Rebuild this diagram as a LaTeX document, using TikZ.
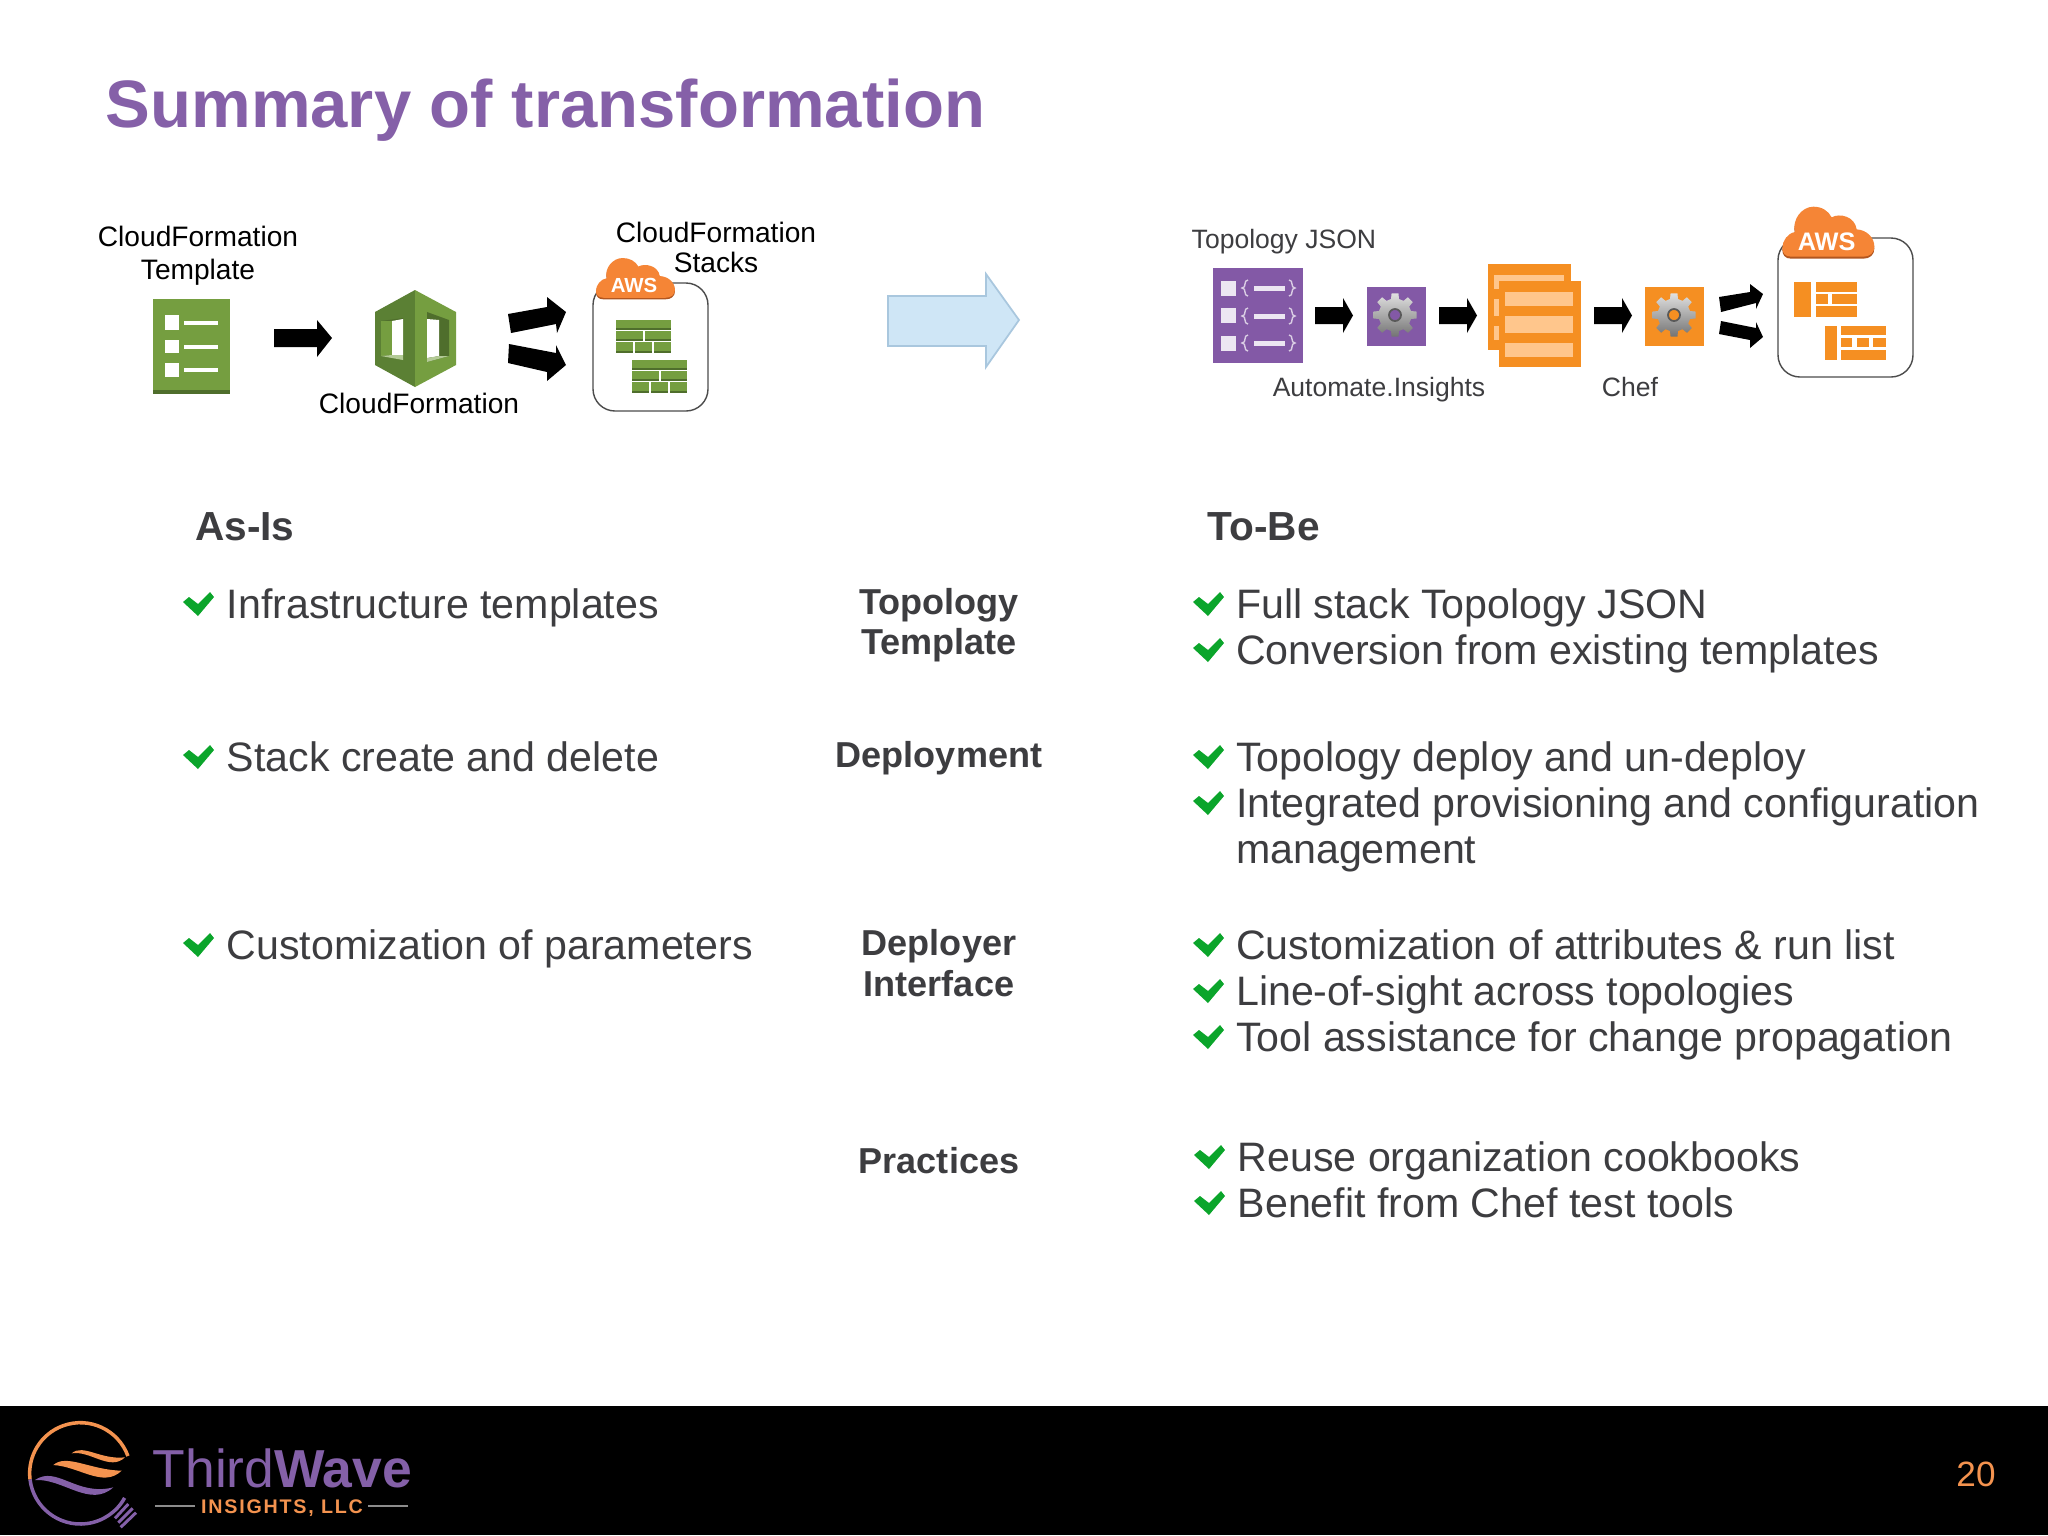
\documentclass[tikz,border=0pt]{standalone}
\usepackage{xcolor}
\usepackage{fontspec}
\setmainfont{Liberation Sans}

\definecolor{titlepurple}{HTML}{8560A8}
\definecolor{bodygray}{HTML}{3D3D40}
\definecolor{checkgreen}{HTML}{0BA52B}
\definecolor{leafgreen}{HTML}{759E40}
\definecolor{leafdark}{HTML}{4F6E2C}
\definecolor{leafmid}{HTML}{5B8034}
\definecolor{iconpurple}{HTML}{8359A6}
\definecolor{iconorange}{HTML}{F58F22}
\definecolor{cloudorange}{HTML}{F58536}
\definecolor{clouddark}{HTML}{B2561F}
\definecolor{logoorange}{HTML}{F4934F}
\definecolor{logopurple}{HTML}{8460A8}
\definecolor{paleblue}{HTML}{CFE6F6}
\definecolor{paleedge}{HTML}{A9C7DE}

\tikzset{
    bodytext/.style={anchor=base west,inner sep=0pt,text=bodygray,font=\fontsize{11.7}{14}\selectfont},
    headtext/.style={anchor=base west,inner sep=0pt,text=bodygray,font=\fontsize{11.55}{14}\bfseries\selectfont},
    rowlabel/.style={align=center,inner sep=0pt,text=bodygray,font=\fontsize{10.25}{11.5}\bfseries\selectfont},
    iconlabel/.style={align=center,inner sep=0pt,text=black,font=\fontsize{8}{9.4}\selectfont},
    toolabel/.style={inner sep=0pt,text=bodygray,font=\fontsize{7.55}{9}\selectfont},
    roundbox/.style={draw=black!70,line width=0.4pt,fill=white,rounded corners=0.22cm}
}

\newcommand{\chk}[2]{\fill[checkgreen,shift={(#1,#2)}] (0,-2) -- (6,-7) -- (15,0) -- (27,-12) -- (31,-7) -- (15,12) -- cycle;}
\newcommand{\sidearrow}[1]{\fill[black] (#1,307) -- ++(28,0) -- ++(0,-9) -- ++(10,17.5) -- ++(-10,17.5) -- ++(0,-9) -- ++(-28,0) -- cycle;}
% name, x0, y0, xscale, yscale, font size
\newcommand{\awscloud}[6]{
    \begin{scope}[shift={(#2,#3)},xscale=#4,yscale=#5]
        \foreach \c/\d in {clouddark/6,cloudorange/0}
            \fill[\c,shift={(0,\d)}] (48,170) .. controls (30,170) and (22,158) .. (22,144)
                .. controls (22,122) and (38,100) .. (60,96)
                .. controls (50,60) and (80,20) .. (115,20)
                .. controls (140,20) and (160,32) .. (170,52)
                .. controls (195,38) and (240,50) .. (245,88)
                .. controls (275,90) and (298,112) .. (298,140)
                .. controls (298,158) and (285,170) .. (265,170) -- cycle;
        \node[inner sep=0pt,text=white,font=\fontsize{#6}{#6}\bfseries\selectfont] (#1) at (155,124) {AWS};
    \end{scope}
}
\newcommand{\wallicon}[2]{
    \begin{scope}[shift={(#1,#2)}]
        \foreach \xa/\xb/\ya/\yb in {0/55/0/10,0/27/11/21,29/55/11/21,0/17/22/33,19/36/22/33,38/55/22/33}{
            \fill[leafgreen] (\xa,\ya) rectangle (\xb,\yb);
            \fill[leafdark] (\xa,\yb-1.6) rectangle (\xb,\yb);
        }
    \end{scope}
}
\newcommand{\gearicon}[2]{
    \shade[top color=black!12,bottom color=black!55,even odd rule,shift={(#1,#2)}]
        (-14:16.5) \foreach \a in {0,45,...,315}{ -- (\a-14:16.5) -- (\a-9:22) -- (\a+9:22) -- (\a+14:16.5) } -- cycle
        (0,0) circle (6);
    \draw[black!65,line width=0.5pt,shift={(#1,#2)}] (0,0) circle (6);
}

\begin{document}
\begin{tikzpicture}[x=0.01cm,y=-0.01cm]
        \useasboundingbox (0,0) rectangle (2048,1535);
        \fill[white] (0,0) rectangle (2048,1535);

        \node[anchor=base west,inner sep=0pt,text=titlepurple,font=\fontsize{19.07}{22}\bfseries\selectfont] (title) at (105,127) {Summary of transformation};

        % as-is icons
        \node[iconlabel] (templatelabel) at (198,255.5) {CloudFormation\\Template};
        \fill[leafgreen] (153,299) rectangle (230,390);
        \fill[leafdark] (153,390) rectangle (230,394);
        \foreach \ya/\yb/\ym in {315/330/323,340/353/347,363/377/370}{
            \fill[white] (165,\ya) rectangle (179,\yb);
            \fill[white] (184,\ym-2) rectangle (218,\ym+2);
        }
        \fill[black] (274,329) -- (317,329) -- (317,320) -- (332,338) -- (317,357) -- (317,347) -- (274,347) -- cycle;

        \fill[leafmid] (415,290) -- (375,312) -- (375,365) -- (415,387) -- cycle;
        \fill[leafgreen] (415,290) -- (456,312) -- (456,365) -- (415,387) -- cycle;
        \fill[leafdark] (381,321) -- (403,318) -- (403,358) -- (381,356) -- cycle;
        \fill[leafgreen] (381,321) -- (392,321) -- (392,355) -- (381,356) -- cycle;
        \fill[white] (392,321) -- (403,319) -- (403,355) -- (392,355) -- cycle;
        \fill[leafgreen!55!white] (381,356) -- (392,355) -- (403,355) -- (403,360) -- cycle;
        \fill[leafdark] (427,312) -- (449,320) -- (449,356) -- (427,362) -- cycle;
        \fill[white] (427,319) -- (439,320) -- (439,356) -- (427,358) -- cycle;
        \fill[leafgreen!55!white] (427,358) -- (439,356) -- (449,356) -- (427,362) -- cycle;
        \node[iconlabel] (engine) at (419,403) {CloudFormation};

        \fill[black] (508,314) -- (547,307) -- (547,297) -- (566,312) -- (557,333) -- (556,324) -- (511,333) -- cycle;
        \fill[black] (509,344) -- (556,353) -- (556,345) -- (566,365) -- (547,381) -- (547,372) -- (508,363) -- cycle;

        \node[iconlabel] (stackslabel) at (716,247.5) {CloudFormation\\[-0.03cm]Stacks};
        \filldraw[roundbox] (593,283) rectangle (708,411);
        \awscloud{awsleft}{589.7}{252.7}{0.286}{0.265}{5.8}
        \wallicon{616}{320}
        \wallicon{632}{360}

        % center arrow
        \draw[fill=paleblue,draw=paleedge,line width=0.5pt] (888,296) -- (986,296) -- (986,274) -- (1019,320) -- (986,367) -- (986,346) -- (888,346) -- cycle;

        % to-be icons
        \node[toolabel,anchor=west] (jsonlabel) at (1191,242) {Topology JSON};
        \fill[iconpurple] (1213,268) rectangle (1303,363);
        \foreach \ya/\ym in {281/288,308/316,336/343}{
            \fill[white!85!iconpurple] (1221,\ya) rectangle (1236,\ya+15);
            \fill[white!85!iconpurple] (1254,\ym-2.5) rectangle (1285,\ym+2.5);
            \draw[white!70!iconpurple,line width=0.4pt] (1248,\ym-8) .. controls (1243,\ym-8) and (1247,\ym) .. (1242,\ym) .. controls (1247,\ym) and (1243,\ym+8) .. (1248,\ym+8);
            \draw[white!70!iconpurple,line width=0.4pt] (1289,\ym-8) .. controls (1294,\ym-8) and (1290,\ym) .. (1295,\ym) .. controls (1290,\ym) and (1294,\ym+8) .. (1289,\ym+8);
        }
        \sidearrow{1315}
        \fill[iconpurple] (1366.5,287) rectangle (1426,346);
        \gearicon{1395}{315}
        \sidearrow{1439}

        \fill[iconorange] (1488,264) rectangle (1570.5,350);
        \foreach \ya/\yb in {275/289,299/316,326/340}
            \fill[orange!45!white] (1494,\ya) rectangle (1564,\yb);
        \fill[iconorange] (1499,281) rectangle (1581,367);
        \foreach \ya/\yb in {292/306,316/333,343/357}
            \fill[orange!45!white] (1505,\ya) rectangle (1573,\yb);
        \sidearrow{1594}
        \fill[iconorange] (1645,287) rectangle (1704,346);
        \gearicon{1674}{315}

        \fill[black] (1719,297) -- (1750,292) -- (1750,284) -- (1763,294) -- (1756,309) -- (1756,303) -- (1721,312) -- cycle;
        \fill[black] (1721,321) -- (1756,328) -- (1756,322) -- (1763,337) -- (1750,348) -- (1750,340) -- (1719,334) -- cycle;

        \filldraw[roundbox] (1778,238) rectangle (1913,377);
        \awscloud{awsright}{1775}{200}{0.3333}{0.3333}{7.2}
        \foreach \xa/\xb/\ya/\yb in {1794/1811/282/317,1816/1857/282/292,1816/1828/294/304,1832/1857/294/304,1816/1857/306/317,
                                     1825/1837/326/360,1841/1886/326/335,1841/1852/338/347,1857/1869/338/347,1873/1886/338/347,1841/1886/350/360}
            \fill[iconorange] (\xa,\ya) rectangle (\xb,\yb);
        \node[toolabel,anchor=base] (insightslabel) at (1379,396) {Automate.Insights};
        \node[toolabel,anchor=base] (cheflabel) at (1630,396) {Chef};

        % comparison
        \node[headtext] (asis) at (194.5,540) {As-Is};
        \node[headtext] (tobe) at (1207,540) {To-Be};

        \foreach \n/\y/\t in {a/618/Infrastructure templates,b/771/Stack create and delete,c/959/Customization of parameters}{
            \chk{183}{\y-14}
            \node[bodytext] (as\n) at (226,\y) {\t};
        }
        \foreach \n/\y/\t in {a/618/Full stack Topology JSON,b/664/Conversion from existing templates,
                              c/771/Topology deploy and un-deploy,d/817/Integrated provisioning and configuration,
                              f/959/Customization of attributes \& run list,g/1005/Line-of-sight across topologies,h/1051/Tool assistance for change propagation}{
            \chk{1193}{\y-14}
            \node[bodytext] (to\n) at (1235.5,\y) {\t};
        }
        \node[bodytext] (toe) at (1235.5,863) {management};
        \foreach \n/\y/\t in {i/1171/Reuse organization cookbooks,j/1217/Benefit from Chef test tools}{
            \chk{1194}{\y-14}
            \node[bodytext] (to\n) at (1237,\y) {\t};
        }

        \node[rowlabel] (topology) at (939,625) {Topology\\Template};
        \node[rowlabel] (deployment) at (939,758) {Deployment};
        \node[rowlabel] (deployer) at (939,963) {Deployer\\Interface};
        \node[rowlabel] (practices) at (939,1161) {Practices};

        % footer
        \fill[black] (0,1406) rectangle (2048,1535);
        \begin{scope}[shift={(0,1400)},scale=0.3333]
            \draw[logoorange,line width=1pt] (241,220) ++(-20:152) arc (-20:-187:152);
            \draw[logopurple,line width=1pt] (241,220) ++(-187:152) arc (-187:-331:152);
            \fill[logoorange] (215,160) .. controls (250,130) and (300,180) .. (375,172) .. controls (330,215) and (270,150) .. (215,160) -- cycle;
            \fill[logoorange] (160,195) .. controls (200,160) and (270,210) .. (365,212) .. controls (310,265) and (240,200) .. (160,195) -- cycle;
            \fill[logopurple] (105,240) .. controls (170,195) and (230,290) .. (340,262) .. controls (270,325) and (190,235) .. (105,240) -- cycle;
            \foreach \xa/\ya/\xb/\yb in {385/312/345/355,398/325/355/368,408/338/362/382}
                \draw[logopurple,line width=0.85pt] (\xa,\ya) -- (\xb,\yb);
        \end{scope}
        \node[anchor=base west,inner sep=0pt,text=logopurple,font=\fontsize{15.2}{16}\selectfont] (brand) at (152,1487) {Third\textbf{Wave}};
        \node[anchor=base,inner sep=0pt,text=logoorange,font=\fontsize{5.6}{6}\bfseries\addfontfeature{LetterSpace=9}\selectfont] (insights) at (282,1513) {INSIGHTS, LLC};
        \coordinate (ruleA) at (155,1506);
        \coordinate (ruleB) at (195,1506);
        \coordinate (ruleC) at (368,1506);
        \coordinate (ruleD) at (408,1506);
        \draw[black!45,line width=0.4pt] (ruleA) -- (ruleB) (ruleC) -- (ruleD);
        \node[inner sep=0pt,text=logoorange,font=\fontsize{10}{12}\selectfont] (pagenum) at (1976,1474) {20};
\end{tikzpicture}
\end{document}
